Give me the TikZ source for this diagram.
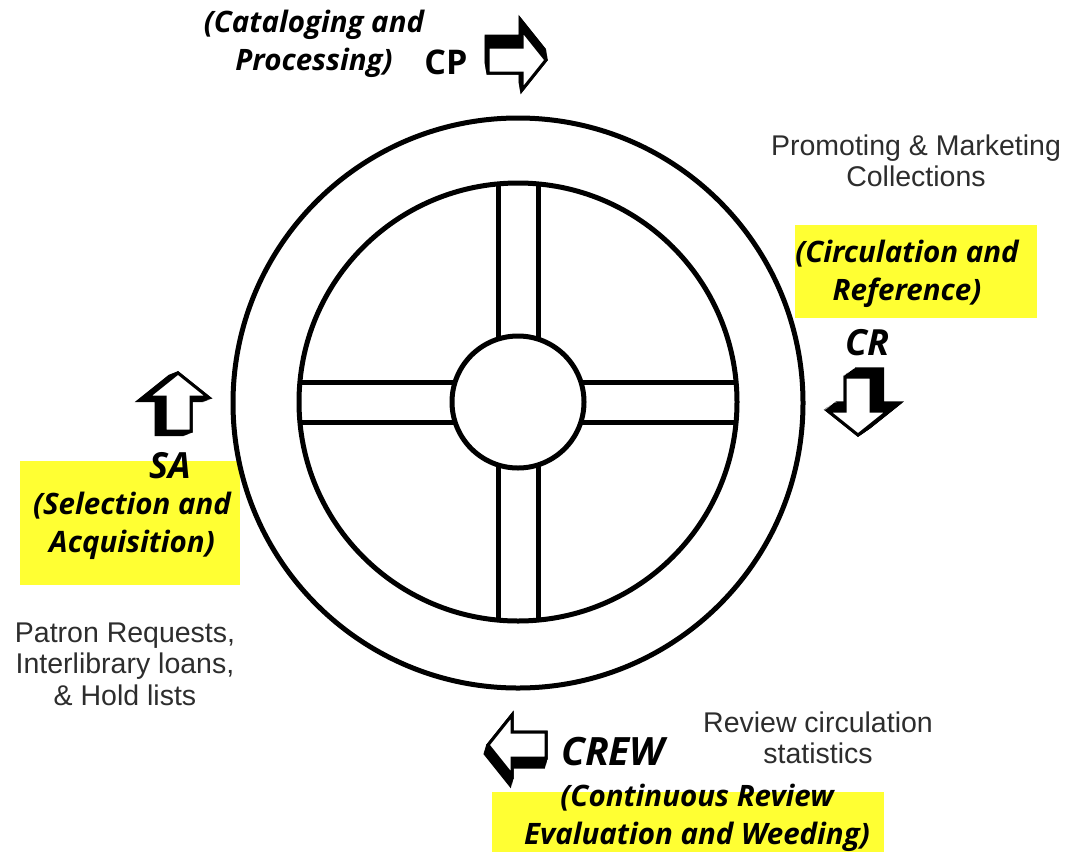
\documentclass[tikz,border=0pt]{standalone}
\usepackage{fontspec}
\setmainfont{Liberation Sans}
\newfontfamily\labfont{Open Sans}
\definecolor{hl}{RGB}{255,255,51}
\definecolor{txt}{RGB}{45,45,45}
\tikzset{
  arrowshape/.pic={\path[pic actions, line join=miter] (-28,-13) -- (6,-13) -- (6,-30) -- (30,0) -- (6,30) -- (6,13) -- (-28,13) -- cycle;},
  wheel/.style={circle, draw, line width=5pt, inner sep=0pt, outer sep=0pt},
  spoke/.style={line width=5pt},
  boldlab/.style={font=\labfont\bfseries\itshape\fontsize{29.5}{38}\selectfont, align=center, text=black, inner sep=0pt},
  abbrev/.style={font=\labfont\bfseries\itshape\fontsize{36}{40}\selectfont, text=black, inner sep=0pt},
  plain/.style={font=\fontsize{28.5}{31.5}\selectfont, align=center, text=txt, inner sep=0pt},
  hlbox/.style={fill=hl, draw=none},
  extr/.style={fill=black, draw=black, line width=3pt},
  front/.style={fill=white, draw=black, line width=3pt},
}
\begin{document}
\begin{tikzpicture}[x=1pt,y=-1pt]
\useasboundingbox[fill=white] (0,0) rectangle (1070,852);
% highlight boxes
\fill[hlbox] (795,225) rectangle (1037,318);
\fill[hlbox] (20,461) rectangle (240,585);
\fill[hlbox] (492,792) rectangle (884,852);
% wheel
\node[wheel, minimum size=570pt] (outer) at (518,403) {};
\node[wheel, minimum size=438pt] (inner) at (518,402) {};
\node[wheel, minimum size=132pt] (hub) at (518,402) {};
\begin{scope}[shift={(518,402)}]
  \draw[spoke] (-20,-218.1) -- (-20,-62.9);
  \draw[spoke] (20,-218.1) -- (20,-62.9);
  \draw[spoke] (-20,218.1) -- (-20,62.9);
  \draw[spoke] (20,218.1) -- (20,62.9);
  \draw[spoke] (-218.1,-20) -- (-62.9,-20);
  \draw[spoke] (-218.1,20) -- (-62.9,20);
  \draw[spoke] (218.1,-20) -- (62.9,-20);
  \draw[spoke] (218.1,20) -- (62.9,20);
\end{scope}
% 3D arrows
% CP (right)
\foreach \t in {0,0.1,...,1} \pic[extr] at (516-2*\t, 60-12*\t) {arrowshape};
\pic[front] at (516,60) {arrowshape};
% CR (down)
\foreach \t in {0,0.1,...,1} \pic[extr, rotate=-90] at (858+13*\t, 405-9*\t) {arrowshape};
\pic[front, rotate=-90] at (858,405) {arrowshape};
% SA (up)
\foreach \t in {0,0.1,...,1} \pic[extr, rotate=90] at (178-10*\t, 403+4*\t) {arrowshape};
\pic[front, rotate=90] at (178,403) {arrowshape};
% CREW (left)
\foreach \t in {0,0.1,...,1} \pic[extr, rotate=180] at (518-3*\t, 745+10*\t) {arrowshape};
\pic[front, rotate=180] at (518,745) {arrowshape};
% labels
\node[boldlab] (cpfull) at (314,44) {(Cataloging and\\Processing)};
\node[abbrev, font=\labfont\bfseries\fontsize{34}{38}\selectfont] (cp) at (446,62) {CP};
\node[plain] (promo) at (916,161) {Promoting \& Marketing\\Collections};
\node[boldlab] (crfull) at (907,274) {(Circulation and\\Reference)};
\node[abbrev] (cr) at (867,343) {CR};
\node[abbrev] (sa) at (170,466) {SA};
\node[boldlab] (safull) at (132,526) {(Selection and\\Acquisition)};
\node[plain] (patron) at (125,664) {Patron Requests,\\Interlibrary loans,\\\& Hold lists};
\node[abbrev, font=\labfont\bfseries\itshape\fontsize{39}{42}\selectfont] (crew) at (613,752) {CREW};
\node[plain] (review) at (818,738) {Review circulation\\statistics};
\node[boldlab] (crewfull) at (697,818) {(Continuous Review\\Evaluation and Weeding)};
\end{tikzpicture}
\end{document}
